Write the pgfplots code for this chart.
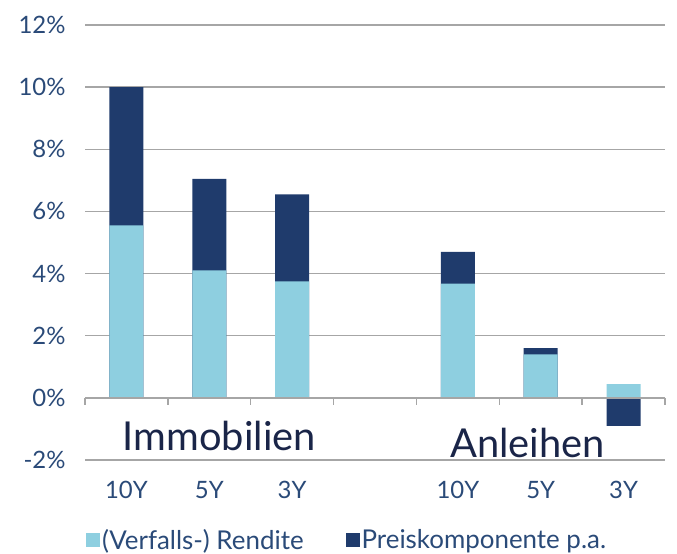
\documentclass[border=0pt]{standalone}
\usepackage{fontspec}
\setmainfont{Lato}
\usepackage{pgfplots}
\pgfplotsset{compat=1.18}
\definecolor{lightb}{HTML}{8ECFE0}
\definecolor{darkb}{HTML}{1F3B6C}
\definecolor{txtb}{HTML}{2A4A78}
\definecolor{catc}{HTML}{1A2548}
\definecolor{gridg}{HTML}{A6A6A6}
\begin{document}
\begin{tikzpicture}
\useasboundingbox (0,0) rectangle (677bp,554bp);
\begin{axis}[
  at={(85bp,94bp)}, anchor=south west,
  scale only axis, width=580bp, height=435bp,
  xmin=-0.5, xmax=6.5, ymin=-2, ymax=12,
  ytick={-2,0,2,4,6,8,10,12},
  yticklabel={\pgfmathprintnumber{\tick}\%},
  /pgf/number format/assume math mode=true,
  xtick={0,1,2,4,5,6}, xticklabels={10Y,5Y,3Y,10Y,5Y,3Y},
  ymajorgrids, grid style={gridg, line width=1.3bp},
  axis line style={draw=none}, major tick length=0pt,
  tick label style={font=\fontsize{24}{27}\selectfont, text=txtb},
  yticklabel style={xshift=-16bp},
  xticklabel style={yshift=-18bp},
  ybar, bar width=34bp, bar shift=0pt,
  clip=false,
  legend style={at={(0.452,-0.184)}, anchor=center, draw=none, fill=none,
    legend columns=2, font=\fontsize{26}{29}\selectfont, text=txtb,
    /tikz/every even column/.append style={column sep=40bp},
    /tikz/every odd column/.append style={column sep=0bp},
    cells={anchor=west}, inner sep=0pt},
  legend image code/.code={\fill[#1] (0bp,-7bp) rectangle (14bp,7bp);},
]
% Preiskomponente p.a. (drawn as total height = Rendite + Preiskomponente; 3Y Anleihen negative from 0)
\addplot[fill=darkb, draw=none, forget plot] coordinates {(0,10.0) (1,7.05) (2,6.55) (4,4.70) (5,1.60) (6,-0.90)};
% (Verfalls-) Rendite
\addplot[fill=lightb, draw=none, forget plot] coordinates {(0,5.55) (1,4.10) (2,3.75) (4,3.68) (5,1.40) (6,0.44)};
\addlegendimage{fill=lightb, draw=none}
\addlegendentry{(Verfalls-) Rendite}
\addlegendimage{fill=darkb, draw=none}
\addlegendentry{Preiskomponente p.a.}
\draw[gridg, line width=1.3bp] (axis cs:-0.5,0) -- (axis cs:6.5,0);
\pgfplotsinvokeforeach{-0.5,0.5,1.5,2.5,3.5,4.5,5.5,6.5}{
  \draw[gridg, line width=1.3bp] (axis cs:#1,0) -- ([yshift=-7bp]axis cs:#1,0);
}
\node[anchor=base, font=\fontsize{40}{40}\selectfont, text=catc, inner sep=0pt] at (axis cs:1.12,-1.69) {Immobilien};
\node[anchor=base, font=\fontsize{40}{40}\selectfont, text=catc, inner sep=0pt] at (axis cs:4.84,-1.91) {Anleihen};
\end{axis}
\end{tikzpicture}
\end{document}
